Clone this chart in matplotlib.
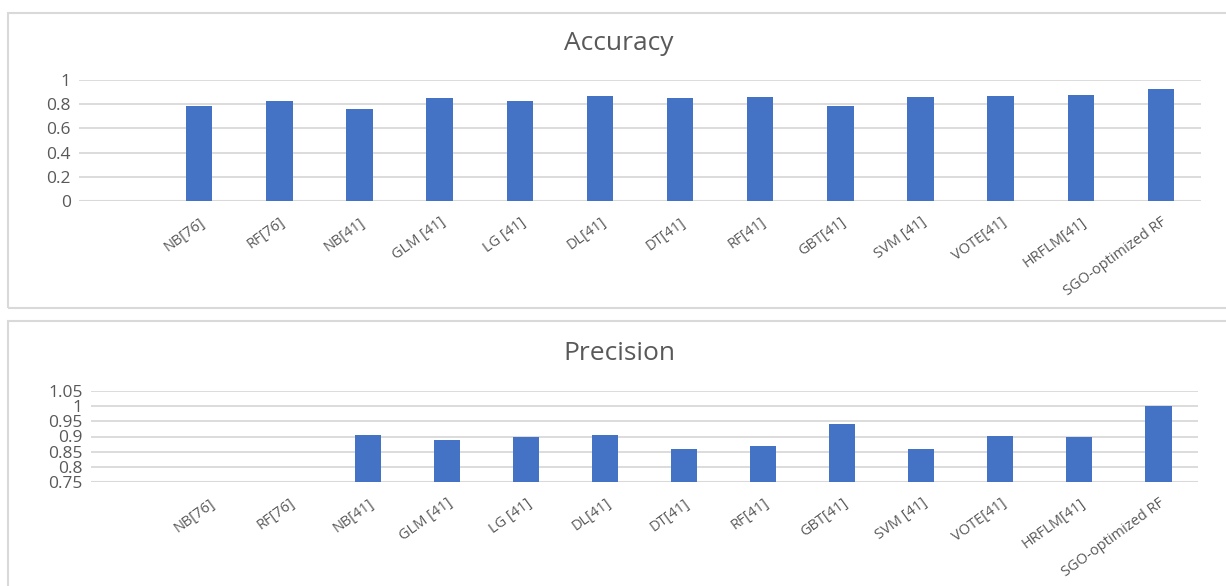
import numpy as np
import matplotlib.pyplot as plt
from matplotlib.patches import Rectangle
import matplotlib.transforms as mtransforms

plt.rcParams['font.family'] = ['Open Sans', 'DejaVu Sans']

# Data
models = ['NB[76]', 'RF[76]', 'NB[41]', 'GLM [41]', 'LG [41]', 'DL[41]', 'DT[41]',
          'RF[41]', 'GBT[41]', 'SVM [41]', 'VOTE[41]', 'HRFLM[41]', 'SGO-optimized RF']
accuracy = [0.786, 0.825, 0.759, 0.852, 0.830, 0.871, 0.852,
            0.858, 0.781, 0.858, 0.871, 0.879, 0.929]
precision = [np.nan, np.nan, 0.904, 0.888, 0.897, 0.904, 0.860,
             0.869, 0.941, 0.860, 0.902, 0.899, 1.0]
acc_ticks = [0, 0.2, 0.4, 0.6, 0.8, 1.0]
acc_ticklabels = ['0', '0.2', '0.4', '0.6', '0.8', '1']
prec_ticks = [0.75, 0.8, 0.85, 0.9, 0.95, 1.0, 1.05]
prec_ticklabels = ['0.75', '0.8', '0.85', '0.9', '0.95', '1', '1.05']

BAR = '#4472C4'
GRID = '#D9D9D9'
TEXT = '#595959'
W, H = 1226, 586


def px_axes(fig, left, top, right, bottom):
    return fig.add_axes([left / W, (H - bottom) / H, (right - left) / W, (bottom - top) / H])


def style_bar_axes(ax, values, ticks, ticklabels, ylim, title, title_y):
    x = np.arange(len(models)) + 1
    ax.bar(x, values, width=0.33, color=BAR, zorder=3)
    ax.set_xlim(-0.5, len(models) + 0.5)
    ax.set_ylim(*ylim)
    ax.set_yticks(ticks)
    ax.set_yticklabels(ticklabels, fontsize=12.5, color=TEXT)
    ax.set_xticks(x)
    ax.set_xticklabels(models, rotation=36, ha='right', rotation_mode='anchor',
                       fontsize=10.5, color=TEXT)
    offset = mtransforms.ScaledTranslation(10 / 100, 0, ax.figure.dpi_scale_trans)
    for lbl in ax.get_xticklabels():
        lbl.set_transform(lbl.get_transform() + offset)
    ax.tick_params(length=0, pad=6)
    ax.tick_params(axis='x', pad=10)
    for s in ax.spines.values():
        s.set_visible(False)
    ax.grid(axis='y', color=GRID, linewidth=1.3, zorder=0)
    ax.axhline(ylim[0], color=GRID, linewidth=1.5, zorder=2)
    ax.set_facecolor('none')
    ax.figure.text(619 / W, 1 - title_y / H, title, ha='center', va='center',
                   fontsize=19, color=TEXT)


fig = plt.figure(figsize=(W / 100, H / 100), dpi=100)

# panel frames
fig.patches.append(Rectangle((8 / W, (H - 308) / H), 1.05, 295 / H, transform=fig.transFigure,
                             fill=False, edgecolor=GRID, linewidth=1.5))
fig.patches.append(Rectangle((8 / W, -0.1), 1.05, (H - 321) / H + 0.1, transform=fig.transFigure,
                             fill=False, edgecolor=GRID, linewidth=1.5))

ax1 = px_axes(fig, 79, 80, 1201, 201)
style_bar_axes(ax1, accuracy, acc_ticks, acc_ticklabels, (0, 1), 'Accuracy', 44)

ax2 = px_axes(fig, 91, 391, 1198, 482)
style_bar_axes(ax2, precision, prec_ticks, prec_ticklabels, (0.75, 1.05), 'Precision', 353)

fig.savefig('out.png', dpi=100)
